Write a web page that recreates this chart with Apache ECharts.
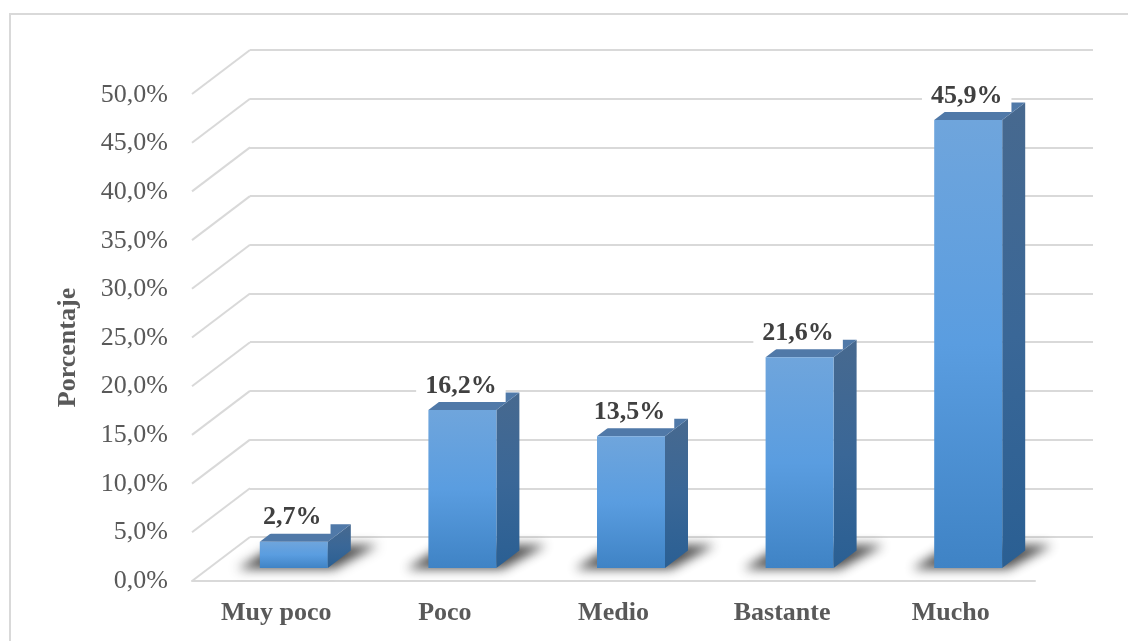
<!DOCTYPE html>
<html>
<head>
<meta charset="utf-8">
<style>html,body{margin:0;padding:0;background:#fff}#chart{width:1128px;height:641px}</style>
<script src="https://cdn.jsdelivr.net/npm/echarts@6/dist/echarts.min.js"></script>
</head>
<body>
<div id="chart"></div>
<script>
// Nivel de acuerdo: porcentaje de respuestas por categoría
const categorias = ['Muy poco', 'Poco', 'Medio', 'Bastante', 'Mucho'];
const porcentajes = [2.7, 16.2, 13.5, 21.6, 45.9];
const marcasEje = [0, 5, 10, 15, 20, 25, 30, 35, 40, 45, 50];

const SERIF = '"Liberation Serif", "Times New Roman", serif';
const LINEA = '#d9d9d9';
const formato = v => v.toFixed(1).replace('.', ',') + '%';

// Profundidad de la pared trasera respecto al plano frontal, y de cada columna
const FONDO = { x: -58, y: 44 };
const COL = { w: 68, dx: 23, dy: -17.5 };
const gradiente = (a, b, c) => new echarts.graphic.LinearGradient(0, 0, 0, 1, [
  { offset: 0, color: a }, { offset: 0.5, color: b }, { offset: 1, color: c }
]);

// Diagonales del suelo y la pared lateral, una por cada marca del eje
function lineaLateral(params, api) {
  const p = api.coord([0, api.value(0)]);
  const x0 = params.coordSys.x;
  return {
    type: 'line',
    shape: { x1: x0 + FONDO.x, y1: p[1] + FONDO.y, x2: x0, y2: p[1] },
    style: { stroke: LINEA, lineWidth: 2 }
  };
}

// Columna con frente, lateral, tapa, sombra difusa en el suelo y etiqueta de valor
function columna(params, api) {
  const valor = api.value(1);
  const top = api.coord([api.value(0), valor]);
  const base = api.coord([api.value(0), 0]);
  const x0 = top[0] - COL.w / 2, x1 = top[0] + COL.w / 2;
  const yT = top[1], yB = base[1];
  const fuera = 1500;
  const sombra = [
    [x0 - 22 - fuera, yB + 1], [x1 + 6 - fuera, yB + 1],
    [x1 + 50 - fuera, yB - 23], [x0 + 16 - fuera, yB - 23]
  ];
  return {
    type: 'group',
    children: [
      {
        type: 'polygon', shape: { points: sombra },
        style: { fill: '#000', shadowColor: 'rgba(30,30,30,0.78)', shadowBlur: 11, shadowOffsetX: fuera }
      },
      {
        type: 'polygon',
        shape: { points: [[x1, yT], [x1 + COL.dx, yT + COL.dy], [x1 + COL.dx, yB + COL.dy], [x1, yB]] },
        style: { fill: gradiente('#47698f', '#3a6797', '#2a5f93') }
      },
      {
        type: 'polygon',
        shape: { points: [[x0, yT], [x1, yT], [x1 + COL.dx, yT + COL.dy], [x0 + COL.dx, yT + COL.dy]] },
        style: { fill: '#5079a8' }
      },
      {
        type: 'rect',
        shape: { x: x0, y: yT, width: COL.w, height: yB - yT },
        style: { fill: gradiente('#6fa5dc', '#5a9de0', '#3f83c5') }
      },
      {
        type: 'text',
        style: {
          x: top[0] - 1.5, y: yT - 8,
          text: formato(valor),
          align: 'center', verticalAlign: 'bottom',
          font: 'bold 26px ' + SERIF,
          fill: '#404040',
          backgroundColor: '#fff',
          padding: [0, 9, 1, 9],
          lineHeight: 30
        }
      }
    ]
  };
}

const ejeCat = (i, extra) => Object.assign({
  type: 'category', gridIndex: i, data: categorias,
  axisTick: { show: false }, axisLine: { show: false }, axisLabel: { show: false }
}, extra);
const ejeVal = (i, extra) => Object.assign({
  type: 'value', gridIndex: i, min: 0, max: 50, interval: 5,
  axisLine: { show: false }, axisTick: { show: false },
  axisLabel: { show: false }, splitLine: { show: false }
}, extra);

const chart = echarts.init(document.getElementById('chart'), null, { renderer: 'canvas' });
chart.setOption({
  backgroundColor: '#fff',
  animation: false,
  graphic: [{
    type: 'rect', silent: true, z: -1,
    shape: { x: 10, y: 14, width: 1400, height: 900 },
    style: { fill: 'none', stroke: LINEA, lineWidth: 2 }
  }],
  grid: [
    { left: 250, top: 50, width: 843, height: 487 },   // pared trasera
    { left: 192, top: 95, width: 843, height: 486 },   // plano frontal: rótulos de ejes
    { left: 209.5, top: 80, width: 843, height: 488 }  // plano de las columnas
  ],
  xAxis: [
    ejeCat(0),
    ejeCat(1, {
      axisLine: { show: true, lineStyle: { color: LINEA, width: 2 } },
      axisLabel: { show: true, margin: 19, color: '#595959', fontFamily: SERIF, fontWeight: 'bold', fontSize: 26 }
    }),
    ejeCat(2)
  ],
  yAxis: [
    ejeVal(0, { splitLine: { show: true, lineStyle: { color: LINEA, width: 2 } } }),
    ejeVal(1, {
      axisLabel: { show: true, margin: 24, color: '#595959', fontFamily: SERIF, fontSize: 26, formatter: formato },
      name: 'Porcentaje', nameLocation: 'middle', nameGap: 111, nameRotate: 90,
      nameTextStyle: { color: '#595959', fontFamily: SERIF, fontWeight: 'bold', fontSize: 26, padding: [0, 19, 0, 0] }
    }),
    ejeVal(2)
  ],
  series: [
    {
      type: 'custom', xAxisIndex: 0, yAxisIndex: 0, z: 1, silent: true, clip: false,
      renderItem: lineaLateral,
      data: marcasEje.map(v => [v]),
      encode: { y: 0 }
    },
    {
      type: 'custom', xAxisIndex: 2, yAxisIndex: 2, z: 3, silent: true, clip: false,
      renderItem: columna,
      data: porcentajes.map((v, i) => [i, v]),
      encode: { x: 0, y: 1 }
    }
  ]
});
</script>
</body>
</html>
